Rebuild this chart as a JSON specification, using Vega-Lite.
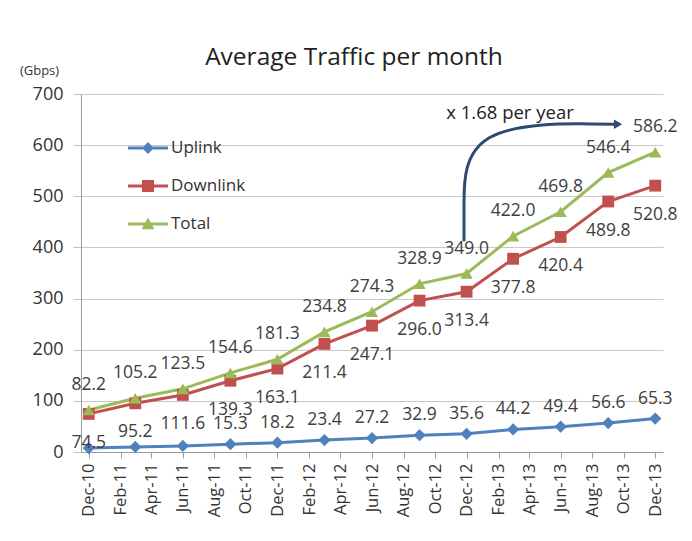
{
  "$schema": "https://vega.github.io/schema/vega-lite/v6.json",
  "width": 582,
  "height": 358,
  "autosize": {"type": "none"},
  "padding": {"left": 81, "top": 94, "right": 29, "bottom": 89},
  "background": "#ffffff",
  "config": {
    "font": "Open Sans",
    "view": {"stroke": null},
    "axis": {"labelFont": "Open Sans", "labelColor": "#333333", "titleFont": "Open Sans"},
    "legend": {"labelFont": "Open Sans"}
  },
  "title": {
    "text": "Average Traffic per month",
    "font": "Open Sans",
    "fontSize": 24.5,
    "fontWeight": "normal",
    "color": "#222222",
    "anchor": "middle",
    "frame": "group",
    "dx": -18,
    "dy": 10,
    "offset": 4
  },
  "datasets": {
    "traffic": [
      {"date": "2010/12/01", "series": "Uplink", "value": 7.7},
      {"date": "2011/03/01", "series": "Uplink", "value": 10.0},
      {"date": "2011/06/01", "series": "Uplink", "value": 11.9},
      {"date": "2011/09/01", "series": "Uplink", "value": 15.3},
      {"date": "2011/12/01", "series": "Uplink", "value": 18.2},
      {"date": "2012/03/01", "series": "Uplink", "value": 23.4},
      {"date": "2012/06/01", "series": "Uplink", "value": 27.2},
      {"date": "2012/09/01", "series": "Uplink", "value": 32.9},
      {"date": "2012/12/01", "series": "Uplink", "value": 35.6},
      {"date": "2013/03/01", "series": "Uplink", "value": 44.2},
      {"date": "2013/06/01", "series": "Uplink", "value": 49.4},
      {"date": "2013/09/01", "series": "Uplink", "value": 56.6},
      {"date": "2013/12/01", "series": "Uplink", "value": 65.3},
      {"date": "2010/12/01", "series": "Downlink", "value": 74.5},
      {"date": "2011/03/01", "series": "Downlink", "value": 95.2},
      {"date": "2011/06/01", "series": "Downlink", "value": 111.6},
      {"date": "2011/09/01", "series": "Downlink", "value": 139.3},
      {"date": "2011/12/01", "series": "Downlink", "value": 163.1},
      {"date": "2012/03/01", "series": "Downlink", "value": 211.4},
      {"date": "2012/06/01", "series": "Downlink", "value": 247.1},
      {"date": "2012/09/01", "series": "Downlink", "value": 296.0},
      {"date": "2012/12/01", "series": "Downlink", "value": 313.4},
      {"date": "2013/03/01", "series": "Downlink", "value": 377.8},
      {"date": "2013/06/01", "series": "Downlink", "value": 420.4},
      {"date": "2013/09/01", "series": "Downlink", "value": 489.8},
      {"date": "2013/12/01", "series": "Downlink", "value": 520.8},
      {"date": "2010/12/01", "series": "Total", "value": 82.2},
      {"date": "2011/03/01", "series": "Total", "value": 105.2},
      {"date": "2011/06/01", "series": "Total", "value": 123.5},
      {"date": "2011/09/01", "series": "Total", "value": 154.6},
      {"date": "2011/12/01", "series": "Total", "value": 181.3},
      {"date": "2012/03/01", "series": "Total", "value": 234.8},
      {"date": "2012/06/01", "series": "Total", "value": 274.3},
      {"date": "2012/09/01", "series": "Total", "value": 328.9},
      {"date": "2012/12/01", "series": "Total", "value": 349.0},
      {"date": "2013/03/01", "series": "Total", "value": 422.0},
      {"date": "2013/06/01", "series": "Total", "value": 469.8},
      {"date": "2013/09/01", "series": "Total", "value": 546.4},
      {"date": "2013/12/01", "series": "Total", "value": 586.2}
    ],
    "arrow": [
      {"i": 0, "date": "2012/11/26", "value": 412},
      {"i": 1, "date": "2012/11/26", "value": 470},
      {"i": 2, "date": "2012/11/26", "value": 644},
      {"i": 3, "date": "2013/09/16", "value": 641}
    ],
    "note": [
      {"date": "2013/02/23", "value": 663, "label": "x 1.68 per year"}
    ],
    "head": [
      {"date": "2013/09/20", "value": 641}
    ]
  },
  "data": {"name": "traffic"},
  "encoding": {
    "x": {
      "field": "date",
      "type": "temporal",
      "scale": {"domain": [{"year": 2010, "month": 11, "date": 16}, {"year": 2013, "month": 12, "date": 16}]},
      "axis": {
        "title": null,
        "values": [
          {"year": 2010, "month": 12, "date": 1},
          {"year": 2011, "month": 2, "date": 1},
          {"year": 2011, "month": 4, "date": 1},
          {"year": 2011, "month": 6, "date": 1},
          {"year": 2011, "month": 8, "date": 1},
          {"year": 2011, "month": 10, "date": 1},
          {"year": 2011, "month": 12, "date": 1},
          {"year": 2012, "month": 2, "date": 1},
          {"year": 2012, "month": 4, "date": 1},
          {"year": 2012, "month": 6, "date": 1},
          {"year": 2012, "month": 8, "date": 1},
          {"year": 2012, "month": 10, "date": 1},
          {"year": 2012, "month": 12, "date": 1},
          {"year": 2013, "month": 2, "date": 1},
          {"year": 2013, "month": 4, "date": 1},
          {"year": 2013, "month": 6, "date": 1},
          {"year": 2013, "month": 8, "date": 1},
          {"year": 2013, "month": 10, "date": 1},
          {"year": 2013, "month": 12, "date": 1}
        ],
        "format": "%b-%y",
        "labelAngle": 270,
        "labelAlign": "right",
        "labelBaseline": "middle",
        "labelFontSize": 16.5,
        "labelPadding": 5,
        "labelOverlap": false,
        "labelFlush": false,
        "grid": false,
        "ticks": true,
        "tickSize": 6,
        "tickColor": "#9a9a9a",
        "domainColor": "#9a9a9a"
      }
    },
    "y": {
      "field": "value",
      "type": "quantitative",
      "scale": {"domain": [0, 700], "nice": false},
      "axis": {
        "title": "(Gbps)",
        "titleAngle": 0,
        "titleAlign": "center",
        "titleBaseline": "middle",
        "titleX": -42,
        "titleY": -24,
        "titleFontSize": 13,
        "titleFontWeight": "normal",
        "titleColor": "#333333",
        "values": [0, 100, 200, 300, 400, 500, 600, 700],
        "labelFontSize": 18,
        "labelPadding": 10,
        "tickSize": 8,
        "tickColor": "#bfbfbf",
        "gridColor": "#c8c8c8",
        "domainColor": "#9a9a9a"
      }
    }
  },
  "layer": [
    {
      "mark": {"type": "line", "strokeWidth": 3},
      "encoding": {
        "color": {
          "field": "series",
          "type": "nominal",
          "scale": {"domain": ["Uplink", "Downlink", "Total"], "range": ["#4f81bd", "#c0504d", "#9bbb59"]},
          "legend": {
            "title": null,
            "orient": "none",
            "legendX": 47,
            "legendY": 34,
            "padding": 0,
            "symbolSize": 1600,
            "labelFontSize": 17,
            "labelColor": "#333333",
            "labelOffset": 3,
            "rowPadding": 10,
            "encode": {
              "symbols": {
                "update": {
                  "shape": {"signal": "datum.value === 'Uplink' ? 'M-1,-0.075L1,-0.075L1,0.075L-1,0.075Z M0,-0.3L0.3,0L0,0.3L-0.3,0Z' : datum.value === 'Downlink' ? 'M-1,-0.075L1,-0.075L1,0.075L-1,0.075Z M-0.3,-0.3L0.3,-0.3L0.3,0.3L-0.3,0.3Z' : 'M-1,-0.075L1,-0.075L1,0.075L-1,0.075Z M0,-0.32L0.32,0.26L-0.32,0.26Z'"},
                  "size": {"value": 1600},
                  "fill": {"scale": "color", "field": "value"},
                  "strokeWidth": {"value": 0},
                  "opacity": {"value": 1}
                }
              }
            }
          }
        }
      }
    },
    {
      "transform": [{"filter": "datum.series === 'Uplink'"}],
      "mark": {"type": "point", "shape": "diamond", "filled": true, "size": 150, "opacity": 1, "color": "#4f81bd"}
    },
    {
      "transform": [{"filter": "datum.series === 'Downlink'"}],
      "mark": {"type": "point", "shape": "square", "filled": true, "size": 140, "opacity": 1, "color": "#c0504d"}
    },
    {
      "transform": [{"filter": "datum.series === 'Total'"}],
      "mark": {"type": "point", "shape": "triangle-up", "filled": true, "size": 150, "opacity": 1, "color": "#9bbb59"}
    },
    {
      "transform": [{"filter": "datum.series === 'Uplink' && datum.value > 14"}],
      "mark": {"type": "text", "dy": -20, "fontSize": 17.5, "color": "#404040", "baseline": "middle", "align": "center"},
      "encoding": {"text": {"field": "value", "type": "quantitative", "format": ".1f"}}
    },
    {
      "transform": [{"filter": "datum.series === 'Downlink'"}],
      "mark": {"type": "text", "dy": 29, "fontSize": 17.5, "color": "#404040", "baseline": "middle", "align": "center"},
      "encoding": {"text": {"field": "value", "type": "quantitative", "format": ".1f"}}
    },
    {
      "transform": [{"filter": "datum.series === 'Total'"}],
      "mark": {"type": "text", "dy": -25, "fontSize": 17.5, "color": "#404040", "baseline": "middle", "align": "center"},
      "encoding": {"text": {"field": "value", "type": "quantitative", "format": ".1f"}}
    },
    {
      "data": {"name": "arrow"},
      "mark": {"type": "line", "interpolate": "basis", "strokeWidth": 3, "color": "#2e4a6e"},
      "encoding": {"order": {"field": "i", "type": "quantitative"}}
    },
    {
      "data": {"name": "head"},
      "mark": {"type": "point", "shape": "triangle-right", "filled": true, "size": 90, "color": "#2e4a6e", "opacity": 1},
      "encoding": {}
    },
    {
      "data": {"name": "note"},
      "mark": {"type": "text", "fontSize": 18.5, "color": "#222222", "baseline": "middle", "align": "center"},
      "encoding": {"text": {"field": "label", "type": "nominal"}}
    }
  ]
}
